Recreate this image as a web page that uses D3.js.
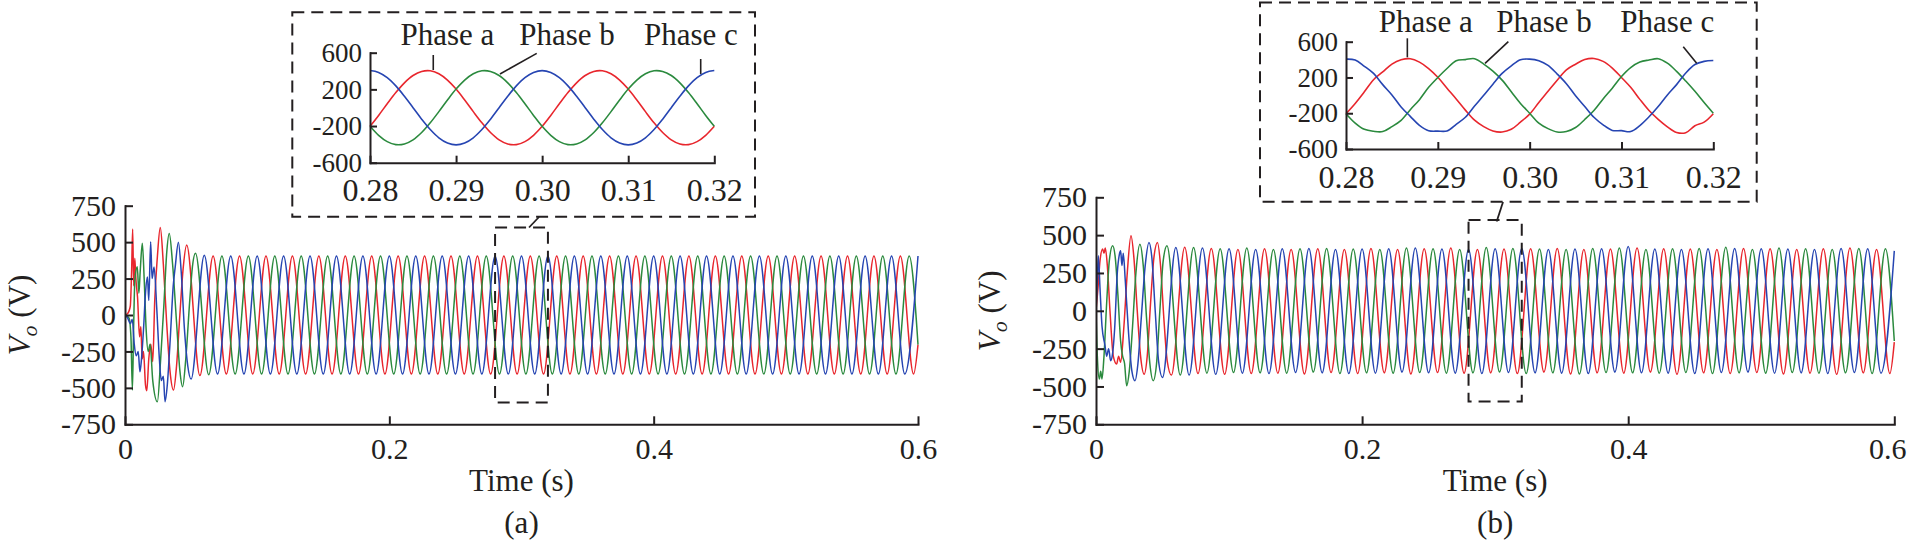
<!DOCTYPE html>
<html>
<head>
<meta charset="utf-8">
<script src="https://cdn.jsdelivr.net/npm/d3@7"></script>
<style>
  html, body { margin: 0; padding: 0; background: #fff; }
  svg { display: block; }
</style>
</head>
<body>
<svg id="chart" width="1910" height="547"></svg>
<script>
// ---------------- DATA ----------------
const xTicks = [0, 0.2, 0.4, 0.6];
const yTicks = [-750, -500, -250, 0, 250, 500, 750];
const insetXTicks = [0.28, 0.29, 0.30, 0.31, 0.32];
const insetYTicks = [-600, -200, 200, 600];
const phaseNames = ["Phase a", "Phase b", "Phase c"];
const panelLetters = ["(a)", "(b)"];
const zoomWindow = [0.28, 0.32];     // s
const zoomRange = [-600, 600];       // V
const halfPeriodMs = 10;             // 50 Hz -> extremum every 10 ms

// ---- Panel (a): transient (ms, V) ----
const aRedT   = [0,2,4,5,5.8,6.6,7.4,8.2,9.5,11,12,13,14,15.5,16.5,18,19.5,21,22.5,24.5,26.7,29,31.5,34,36.7,39,41.5,44];
const aRedV   = [0,10,60,300,590,200,390,250,120,-150,-80,-300,-250,-480,-520,-300,-200,-320,100,400,600,350,-50,-380,-515,-350,0,320];
const aGreenT = [0,3,4.5,5.6,6.5,7.5,9.3,10.5,11.5,13.1,14.5,16,17.5,19,21,24.5,27,29.5,31.5,33.5,36,39,41.5,43.6,46,49,51];
const aGreenV = [0,-20,-150,-515,-100,250,331,150,300,492,250,-100,-250,-200,-450,-595,-300,80,420,560,350,-50,-380,-492,-300,100,330];
const aBlueT  = [0,2,4,5.5,7,8.5,10,11.3,12.5,14,15.5,17,18,19.4,20.5,22,24,26,27.5,29,30.3,32,34,36.5,38,40.4,42.5,45,47.5];
const aBlueV  = [0,-20,-60,-30,-200,-280,-250,-390,-300,-100,150,260,100,503,250,330,50,-300,-450,-420,-595,-480,-200,200,330,500,300,-100,-350];
// ---- Panel (a): steady-state extrema (one every half period) ----
const aRedStartMs = 140/3, aGreenStartMs = 160/3, aBlueStartMs = 50;
const aRedS = [480,-415,405,-405,405,-405,405,-405,405,-405,
  405,-405,405,-405,405,-405,405,-405,405,-405,
  405,-405,405,-405,405,-405,405,-405,405,-405,
  405,-405,405,-405,405,-405,405,-405,405,-405,
  405,-405,405,-405,405,-405,405,-405,405,-405,
  405,-405,405,-405,405,-405];
const aGreenS = [423,-410,405,-405,405,-405,405,-405,405,-405,
  405,-405,405,-405,405,-405,405,-405,405,-405,
  405,-405,405,-405,405,-405,405,-405,405,-405,
  405,-405,405,-405,405,-405,405,-405,405,-405,
  405,-405,405,-405,405,-405,405,-405,405,-405,
  405,-405,405,-405,405];
const aBlueS = [-440,410,-405,405,-405,405,-405,405,-405,405,
  -405,405,-405,405,-405,405,-405,405,-405,405,
  -405,405,-405,405,-405,405,-405,405,-405,405,
  -405,405,-405,405,-405,405,-405,405,-405,405,
  -405,405,-405,405,-405,405,-405,405,-405,405,
  -405,405,-405,405,-405,405];
const aEndV = [-203, -203, null];   // value at t = 0.6 s (red, green, blue)

// ---- Panel (b): transient (ms, V) ----
const bRedT   = [0,1.5,3,5,6,7,8.5,10.5,13,15.5,17,18.5,21,23.5,26.3,28.5,31,33.5,36.2,38.5,41,43.5,46.2,48.5,51,53.5];
const bRedV   = [0,150,330,408,380,415,300,0,-300,-352,-300,-340,-100,250,496,350,0,-300,-419,-300,50,350,452,300,-50,-330];
const bGreenT = [0,1,2.5,3.5,4.5,6,8,10,12.5,14.5,16.5,18.5,20,21.5,23,25,27.5,30,33,35.5,38,40.5,43,45.5,48,50.5];
const bGreenV = [0,-300,-451,-400,-450,-300,50,330,430,350,100,-200,-300,-350,-495,-400,-100,250,440,300,-50,-350,-462,-350,0,330];
const bBlueT  = [0,1,1.75,3,4.5,6.8,8,9.5,11,12.5,14,16,17.5,18.5,19.5,20.5,22,24.5,27,29.3,31.5,34,37,39.8,42,44.5,47];
const bBlueV  = [0,200,363,150,-100,-231,-300,-250,-330,-280,-120,250,370,396,300,380,200,-150,-400,-462,-350,-50,300,452,350,0,-330];
// ---- Panel (b): steady-state extrema ----
const bRedStartMs = 170/3, bGreenStartMs = 160/3, bBlueStartMs = 50;
const bRedS = [-425,420,-415,412,-420,405,-415,410,-412,405,
  -418,410,-408,405,-415,412,-410,405,-418,410,
  -408,415,-412,405,-410,408,-415,410,-405,412,
  -418,405,-410,408,-412,415,-405,410,-420,408,
  -410,405,-415,412,-408,410,-418,405,-412,410,
  -420,415,-410,405,-415];
const bGreenS = [430,-425,418,-412,410,-408,415,-410,405,-412,
  410,-405,412,-415,408,-410,405,-412,415,-408,
  410,-412,405,-410,418,-405,412,-415,408,-410,
  405,-418,412,-408,415,-410,405,-412,410,-408,
  412,-415,420,-410,405,-412,415,-408,410,-412,
  405,-410,412,-415,410];
const bBlueS = [-440,419,-425,415,-420,410,-412,405,-415,410,
  -408,412,-410,405,-415,408,-412,410,-405,415,
  -410,408,-412,405,-415,410,-408,412,-410,405,
  -412,408,-415,410,-405,425,-410,408,-412,405,
  -415,410,-408,412,-405,410,-412,408,-410,405,
  -415,412,-408,410,-412,396];
const bEndV = [-207, -200, null];

// ---- Insets: 1 ms samples from 0.280 s to 0.320 s ----
const insetTimeMs = d3.range(280, 321, 1);
const insetARed = [-203,-84,43,165,271,351,396,403,370,301,203,84,-43,-165,-271,-351,-396,-403,-370,-301,
  -203,-84,43,165,271,351,396,403,370,301,203,84,-43,-165,-271,-351,-396,-403,-370,-301,-203];
const insetAGreen = [-203,-301,-370,-403,-396,-351,-271,-165,-43,84,203,301,370,403,396,351,271,165,43,-84,
  -203,-301,-370,-403,-396,-351,-271,-165,-43,84,203,301,370,403,396,351,271,165,43,-84,-203];
const insetABlue = [405,385,328,238,125,0,-125,-238,-328,-385,-405,-385,-328,-238,-125,0,125,238,328,385,
  405,385,328,238,125,0,-125,-238,-328,-385,-405,-385,-328,-238,-125,0,125,238,328,385,405];
const insetBRed = [-205,-90,40,175,262,350,398,410,372,300,202,80,-40,-165,-278,-350,-398,-410,-380,-300,
  -210,-80,45,170,285,348,400,412,380,305,200,90,-45,-170,-268,-352,-415,-418,-340,-300,-205];
const insetBGreen = [-205,-310,-380,-402,-405,-350,-280,-160,-48,90,200,300,388,400,410,350,270,170,40,-90,
  -200,-310,-372,-410,-405,-360,-270,-170,-40,80,210,310,372,395,410,360,268,160,45,-80,-200];
const insetBBlue = [405,395,325,245,120,5,-130,-235,-335,-395,-400,-398,-325,-245,-120,0,125,245,330,398,
  405,388,335,238,130,-5,-125,-245,-330,-392,-395,-405,-338,-240,-125,5,120,250,345,380,390];

// ---------------- STYLE / LAYOUT ----------------
const FONT = '"Liberation Serif","Times New Roman",Times,serif';
const INK = "#231f20";
const colors = ["#e8262d", "#2b8a3e", "#2645b2"];

function buildSeries(tMs, v, startMs, steady, endV) {
  const pts = tMs.map((t, i) => ({ t: t / 1000, v: v[i] }));
  steady.forEach((val, i) => pts.push({ t: (startMs + i * halfPeriodMs) / 1000, v: val }));
  if (endV !== null) pts.push({ t: 0.6, v: endV });
  return pts;
}
function insetSeries(vals) {
  return insetTimeMs.map((t, i) => ({ t: t / 1000, v: vals[i] }));
}

const panels = [
  {
    id: "a", letter: panelLetters[0],
    x0: 125, x1: 918, yTop: 205.7, yBot: 424.3, ylabX: 30, lastLabelShift: 0,
    series: [
      buildSeries(aRedT, aRedV, aRedStartMs, aRedS, aEndV[0]),
      buildSeries(aGreenT, aGreenV, aGreenStartMs, aGreenS, aEndV[1]),
      buildSeries(aBlueT, aBlueV, aBlueStartMs, aBlueS, aEndV[2])
    ],
    inset: {
      box: [292.3, 12.3, 755, 216.7],
      x0: 370, x1: 714.3, yTop: 52.7, yBot: 162.7,
      data: [insetSeries(insetARed), insetSeries(insetAGreen), insetSeries(insetABlue)],
      labels: [[0.28900, 684], [0.30289, 684], [0.31729, 684]],
      leaders: [[[0.28735, 575], [0.28735, 411]], [[0.29937, 593], [0.29510, 368]], [[0.31842, 531], [0.31842, 368]]],
      connector: [[539, 217], [529, 227.5]]
    }
  },
  {
    id: "b", letter: panelLetters[1],
    x0: 1096, x1: 1894.3, yTop: 197.3, yBot: 424.3, ylabX: 1000, lastLabelShift: -7,
    series: [
      buildSeries(bRedT, bRedV, bRedStartMs, bRedS, bEndV[0]),
      buildSeries(bGreenT, bGreenV, bGreenStartMs, bGreenS, bEndV[1]),
      buildSeries(bBlueT, bBlueV, bBlueStartMs, bBlueS, bEndV[2])
    ],
    inset: {
      box: [1260, 2.5, 1756.7, 201.7],
      x0: 1346, x1: 1713.3, yTop: 41.7, yBot: 149,
      data: [insetSeries(insetBRed), insetSeries(insetBGreen), insetSeries(insetBBlue)],
      labels: [[0.28869, 712], [0.30156, 712], [0.31499, 712]],
      leaders: [[[0.28668, 638], [0.28668, 425]], [[0.29768, 600], [0.29514, 358]], [[0.31673, 544], [0.31819, 358]]],
      connector: [[1503, 202], [1496.7, 221.5]]
    }
  }
];

// ---------------- DRAW ----------------
const svg = d3.select("#chart");
svg.append("rect").attr("width", 1910).attr("height", 547).attr("fill", "#fff");
const defs = svg.append("defs");

function styleAxis(sel, fs) {
  sel.attr("font-family", null).attr("font-size", null);
  sel.select(".domain").attr("stroke", INK).attr("stroke-width", 2).attr("stroke-linecap", "square");
  sel.selectAll(".tick line").attr("stroke", INK).attr("stroke-width", 2);
  sel.selectAll(".tick text").attr("fill", INK).style("font-family", FONT).style("font-size", fs + "px");
}

panels.forEach(p => {
  const x = d3.scaleLinear().domain([0, 0.6]).range([p.x0, p.x1]);
  const y = d3.scaleLinear().domain([-750, 750]).range([p.yBot, p.yTop]);
  const g = svg.append("g");

  defs.append("clipPath").attr("id", "clip-" + p.id).append("rect")
    .attr("x", p.x0).attr("y", p.yTop - 30).attr("width", p.x1 - p.x0 + 1).attr("height", p.yBot - p.yTop + 30);

  const line = d3.line().x(d => x(d.t)).y(d => y(d.v)).curve(d3.curveMonotoneX);
  const lg = g.append("g").attr("clip-path", `url(#clip-${p.id})`);
  p.series.forEach((s, i) => {
    lg.append("path").attr("d", line(s)).attr("fill", "none")
      .attr("stroke", colors[i]).attr("stroke-width", 1.5).attr("stroke-linejoin", "round");
  });

  // zoom window box on main plot
  g.append("rect")
    .attr("x", x(zoomWindow[0])).attr("y", y(zoomRange[1]))
    .attr("width", x(zoomWindow[1]) - x(zoomWindow[0])).attr("height", y(zoomRange[0]) - y(zoomRange[1]))
    .attr("fill", "none").attr("stroke", INK).attr("stroke-width", 2).attr("stroke-dasharray", "12,7");

  // axes
  g.append("g").attr("transform", `translate(${p.x0},0)`)
    .call(d3.axisLeft(y).tickValues(yTicks).tickSizeInner(-8).tickSizeOuter(0).tickPadding(9).tickFormat(d => String(d)))
    .call(styleAxis, 30);
  const xa = g.append("g").attr("transform", `translate(0,${p.yBot})`)
    .call(d3.axisBottom(x).tickValues(xTicks).tickSizeInner(-8).tickSizeOuter(0).tickPadding(13).tickFormat(d => String(d)))
    .call(styleAxis, 30);
  if (p.lastLabelShift) {
    xa.selectAll(".tick text").filter(d => d === xTicks[xTicks.length - 1]).attr("dx", p.lastLabelShift);
  }

  const cx = (p.x0 + p.x1) / 2;
  g.append("text").attr("x", cx).attr("y", 491).attr("text-anchor", "middle")
    .style("font-family", FONT).style("font-size", "31px").attr("fill", INK).text("Time (s)");
  g.append("text").attr("x", cx).attr("y", 533).attr("text-anchor", "middle")
    .style("font-family", FONT).style("font-size", "31px").attr("fill", INK).text(p.letter);

  const yl = g.append("text")
    .attr("transform", `translate(${p.ylabX},${(p.yTop + p.yBot) / 2}) rotate(-90)`)
    .attr("text-anchor", "middle").attr("fill", INK)
    .style("font-family", FONT).style("font-size", "31px");
  yl.append("tspan").style("font-style", "italic").text("V");
  yl.append("tspan").style("font-style", "italic").style("font-size", "22px").attr("dy", 7).text("o");
  yl.append("tspan").attr("dy", -7).text("\u00A0(V)");

  // ---- inset ----
  const ins = p.inset;
  const ix = d3.scaleLinear().domain(zoomWindow).range([ins.x0, ins.x1]);
  const iy = d3.scaleLinear().domain(zoomRange).range([ins.yBot, ins.yTop]);
  const ig = svg.append("g");
  ig.append("rect").attr("x", ins.box[0]).attr("y", ins.box[1])
    .attr("width", ins.box[2] - ins.box[0]).attr("height", ins.box[3] - ins.box[1])
    .attr("fill", "#fff").attr("stroke", INK).attr("stroke-width", 2).attr("stroke-dasharray", "12,7");

  const iline = d3.line().x(d => ix(d.t)).y(d => iy(d.v)).curve(d3.curveCatmullRom);
  ins.data.forEach((s, i) => {
    ig.append("path").attr("d", iline(s)).attr("fill", "none")
      .attr("stroke", colors[i]).attr("stroke-width", 1.6).attr("stroke-linejoin", "round");
  });

  ig.append("g").attr("transform", `translate(${ins.x0},0)`)
    .call(d3.axisLeft(iy).tickValues(insetYTicks).tickSizeInner(-7).tickSizeOuter(0).tickPadding(8).tickFormat(d => String(d)))
    .call(styleAxis, 27);
  ig.append("g").attr("transform", `translate(0,${ins.yBot})`)
    .call(d3.axisBottom(ix).tickValues(insetXTicks).tickSizeInner(-7).tickSizeOuter(0).tickPadding(16).tickFormat(d => d.toFixed(2)))
    .call(styleAxis, 32);

  ins.labels.forEach((l, i) => {
    ig.append("text").attr("x", ix(l[0])).attr("y", iy(l[1])).attr("text-anchor", "middle")
      .style("font-family", FONT).style("font-size", "31px").attr("fill", INK).text(phaseNames[i]);
  });
  ins.leaders.forEach(seg => {
    ig.append("line").attr("x1", ix(seg[0][0])).attr("y1", iy(seg[0][1]))
      .attr("x2", ix(seg[1][0])).attr("y2", iy(seg[1][1]))
      .attr("stroke", INK).attr("stroke-width", 1.6);
  });

  svg.append("line").attr("x1", ins.connector[0][0]).attr("y1", ins.connector[0][1])
    .attr("x2", ins.connector[1][0]).attr("y2", ins.connector[1][1])
    .attr("stroke", INK).attr("stroke-width", 1.8);
});
</script>
</body>
</html>
